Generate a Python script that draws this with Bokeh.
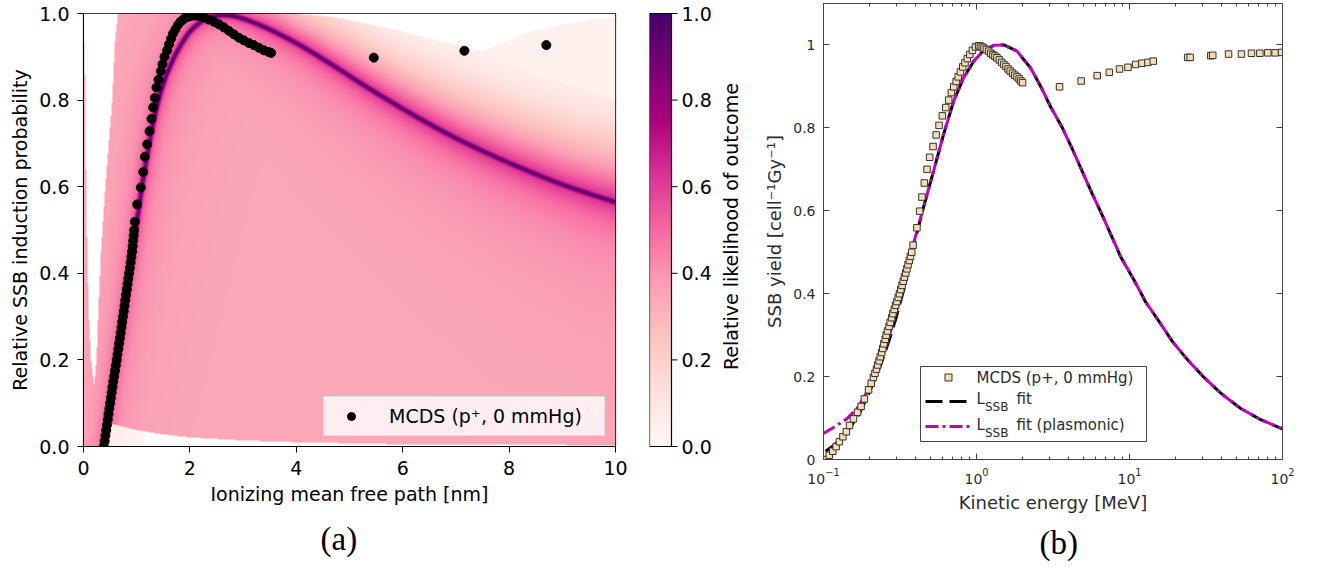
import numpy as np
from bokeh.plotting import figure
from bokeh.layouts import row
from bokeh.core.properties import value
from bokeh.models import (LinearColorMapper, FixedTicker, LogTicker, LogAxis, LinearAxis,
                          Label, BoxAnnotation, Arrow, Title, Plot, Range1d)
from bokeh.embed import file_html
from bokeh.resources import INLINE

FONT = "DejaVu Sans"

# ---------------------------------------------------------------- panel (a) data
# MCDS points mapped to ionizing mean free path
mcds_a_x = [0.382, 0.397, 0.412, 0.427, 0.441, 0.456, 0.470, 0.485, 0.500, 0.515, 0.530,
            0.545, 0.560, 0.576, 0.592, 0.608, 0.624, 0.639, 0.654, 0.669, 0.684, 0.699,
            0.713, 0.728, 0.742, 0.757, 0.771, 0.785, 0.799, 0.814, 0.828, 0.843, 0.857,
            0.872, 0.886, 0.900, 0.913, 0.924, 0.934, 0.943, 0.952,
            0.965, 1.009, 1.078, 1.122, 1.153, 1.197, 1.241, 1.278, 1.310, 1.341, 1.372,
            1.410, 1.454, 1.485, 1.523, 1.573, 1.610, 1.648, 1.686, 1.729, 1.773, 1.823,
            1.873, 1.924, 1.986, 2.061, 2.137, 2.199, 2.262, 2.356, 2.450, 2.544, 2.638,
            2.732, 2.826, 2.920, 3.014, 3.108, 3.202, 3.296, 3.390, 3.484, 3.528,
            5.457, 7.160, 8.700]
mcds_a_y = [0.000, 0.0125, 0.025, 0.0375, 0.050, 0.0625, 0.075, 0.0875, 0.100, 0.1125, 0.125,
            0.1375, 0.150, 0.1625, 0.175, 0.1875, 0.200, 0.2125, 0.225, 0.2375, 0.250, 0.2625,
            0.275, 0.2875, 0.300, 0.3125, 0.325, 0.3375, 0.350, 0.3625, 0.375, 0.3875, 0.400,
            0.4125, 0.425, 0.4375, 0.450, 0.4625, 0.475, 0.4875, 0.500,
            0.519, 0.559, 0.598, 0.634, 0.669, 0.698, 0.728, 0.757, 0.783, 0.805, 0.829,
            0.847, 0.867, 0.883, 0.900, 0.915, 0.929, 0.942, 0.954, 0.963, 0.973, 0.981,
            0.986, 0.991, 0.993, 0.995, 0.995, 0.994, 0.991, 0.986, 0.981, 0.975, 0.968,
            0.960, 0.952, 0.944, 0.938, 0.932, 0.927, 0.921, 0.915, 0.911, 0.909,
            0.898, 0.914, 0.927]

# most likely curve (dark ridge of the likelihood map)
ridge_x = [0.38, 0.50, 0.60, 0.70, 0.80, 0.90, 1.00, 1.10, 1.20, 1.30, 1.40, 1.50, 1.60,
           1.75, 2.00, 2.30, 2.65, 3.00, 3.50, 4.08, 4.64, 5.34, 6.00, 6.60, 7.20, 8.00,
           9.00, 10.00]
ridge_y = [0.00, 0.10, 0.18, 0.265, 0.35, 0.43, 0.515, 0.60, 0.675, 0.74, 0.795, 0.838,
           0.870, 0.910, 0.958, 0.987, 0.996, 0.988, 0.963, 0.926, 0.884, 0.829, 0.780,
           0.738, 0.700, 0.655, 0.605, 0.564]

# empty gap between the thin left sliver and the main fan of curves
gap_y = [0.14, 0.20, 0.30, 0.45, 0.60, 0.80, 0.93, 0.94, 1.00]
gap_lo = [0.20, 0.14, 0.10, 0.07, 0.05, 0.035, 0.02, 0.0, 0.0]
gap_hi = [0.20, 0.245, 0.275, 0.33, 0.41, 0.54, 0.59, 0.595, 0.65]

# lower edge of the fan
floor_x = [0.42, 0.48, 0.60, 0.80, 1.00, 1.50, 2.00, 3.00, 4.00, 6.00, 10.0]
floor_y = [0.0, 0.052, 0.050, 0.044, 0.038, 0.028, 0.021, 0.014, 0.010, 0.005, 0.003]

# upper edge of the fan and of the faint outer band
ceil_x = [3.4, 4.0, 4.7, 5.33, 5.96, 6.58, 7.21, 7.5, 8.5, 10.0]
ceil_y = [1.0, 1.0, 0.992, 0.977, 0.960, 0.940, 0.923, 0.913, 0.86, 0.80]
outer_x = [7.3, 7.5, 8.44, 9.38, 10.0]
outer_y = [0.905, 0.913, 0.961, 0.983, 0.992]

# fall-off length (px) of the likelihood above the ridge
fade_x = [0.0, 2.4, 3.0, 4.0, 5.0, 6.0, 7.5, 10.0]
fade_len = [1e4, 1e4, 80.0, 40.0, 45.0, 50.0, 60.0, 75.0]

# colour bar ticks
cbar_ticks = [0.0, 0.2, 0.4, 0.6, 0.8, 1.0]
cbar_labels = ["0.0", "0.2", "0.4", "0.6", "0.8", "1.0"]

# ---------------------------------------------------------------- panel (b) data
mcds_E = [0.105, 0.109, 0.115, 0.121, 0.127, 0.134, 0.141, 0.148, 0.157, 0.167, 0.176,
          0.185, 0.197, 0.205,
          0.212, 0.217, 0.222, 0.226, 0.231, 0.235, 0.240, 0.244, 0.248, 0.253, 0.257,
          0.262, 0.268, 0.273, 0.279, 0.284, 0.290, 0.296, 0.302, 0.308, 0.314, 0.320,
          0.326, 0.332, 0.338, 0.345, 0.351, 0.357, 0.364, 0.370, 0.377,
          0.385, 0.408, 0.425, 0.440, 0.456, 0.475, 0.494, 0.520, 0.545, 0.569, 0.598,
          0.630, 0.658, 0.685, 0.710, 0.736, 0.759, 0.785, 0.813, 0.841, 0.871, 0.904,
          0.940, 0.984, 1.033,
          1.06, 1.09, 1.12, 1.16, 1.20, 1.24, 1.28, 1.32, 1.36, 1.41, 1.46, 1.51, 1.56,
          1.61, 1.66, 1.72, 1.78, 1.84, 1.90, 1.95, 2.00,
          3.49, 4.83, 6.15, 7.38, 8.61, 9.77, 10.97, 12.05, 13.2, 14.3, 24.0, 24.9, 34.0,
          35.0, 44.4, 53.9, 62.7, 71.1, 80.2, 89.5, 98.6]
mcds_y = [0.000, 0.010, 0.020, 0.031, 0.043, 0.055, 0.067, 0.082, 0.098, 0.114, 0.128,
          0.146, 0.168, 0.184,
          0.198, 0.208, 0.218, 0.228, 0.238, 0.248, 0.258, 0.268, 0.279, 0.290, 0.300,
          0.310, 0.321, 0.331, 0.342, 0.352, 0.362, 0.372, 0.381, 0.391, 0.400, 0.410,
          0.420, 0.430, 0.440, 0.450, 0.460, 0.470, 0.480, 0.490, 0.500,
          0.517, 0.559, 0.599, 0.633, 0.667, 0.700, 0.729, 0.755, 0.783, 0.806, 0.829,
          0.849, 0.867, 0.885, 0.899, 0.912, 0.923, 0.935, 0.947, 0.957, 0.967, 0.977,
          0.987, 0.995, 0.998,
          0.997, 0.995, 0.992, 0.989, 0.985, 0.980, 0.976, 0.973, 0.969, 0.964, 0.958,
          0.953, 0.948, 0.942, 0.937, 0.932, 0.927, 0.923, 0.918, 0.913, 0.909,
          0.899, 0.913, 0.926, 0.934, 0.942, 0.946, 0.953, 0.956, 0.958, 0.961, 0.970,
          0.970, 0.974, 0.975, 0.978, 0.978, 0.980, 0.980, 0.981, 0.981, 0.982]

# shared upper part of both fitted curves
fit_tail_E = [0.451, 0.525, 0.610, 0.710, 0.824, 0.960, 1.114, 1.30, 1.51, 1.84, 2.25,
              2.62, 3.05, 3.63, 4.23, 4.91, 5.71, 6.64, 8.11, 8.75, 10.7, 12.7, 15.6,
              19.05, 23.9, 30.7, 39.5, 53.3, 72.1, 100.0]
fit_tail_y = [0.609, 0.697, 0.785, 0.865, 0.921, 0.961, 0.987, 0.999, 1.000, 0.985, 0.945,
              0.901, 0.851, 0.801, 0.749, 0.695, 0.641, 0.589, 0.517, 0.489, 0.433, 0.381,
              0.333, 0.285, 0.241, 0.198, 0.160, 0.123, 0.096, 0.074]
# low-energy parts
fit_E = [0.103, 0.115, 0.130, 0.150, 0.170, 0.190, 0.210, 0.240, 0.270, 0.300, 0.340, 0.385]
fit_y = [0.020, 0.032, 0.050, 0.078, 0.108, 0.145, 0.182, 0.235, 0.290, 0.345, 0.420, 0.510]
plas_E = [0.100, 0.122, 0.142, 0.165, 0.192, 0.224, 0.260, 0.302, 0.351, 0.385]
plas_y = [0.063, 0.082, 0.098, 0.122, 0.162, 0.210, 0.280, 0.361, 0.457, 0.517]

x_ticks_a = [0, 2, 4, 6, 8, 10]
y_ticks_a = [0.0, 0.2, 0.4, 0.6, 0.8, 1.0]
y_ticks_b = [0, 0.2, 0.4, 0.6, 0.8, 1]

# ---------------------------------------------------------------- colour map (RdPu)
RDPU = ['#fff7f3', '#fde0dd', '#fcc5c0', '#fa9fb5', '#f768a1',
        '#dd3497', '#ae017e', '#7a0177', '#49006a']


def ramp(stops, n=256):
    rgb = np.array([[int(c[i:i + 2], 16) for i in (1, 3, 5)] for c in stops], float)
    pos = np.linspace(0, 1, len(stops))
    t = np.linspace(0, 1, n)
    chans = [np.interp(t, pos, rgb[:, k]) for k in range(3)]
    return ['#%02x%02x%02x' % (int(round(r)), int(round(g)), int(round(b)))
            for r, g, b in zip(*chans)]


PAL = ramp(RDPU)


def catmull_rom(px, py, n):
    P = np.column_stack([px, py]).astype(float)
    P = np.vstack([2 * P[0] - P[1], P, 2 * P[-1] - P[-2]])
    t = np.linspace(0, 1, n, endpoint=False)[:, None]
    segs = []
    for i in range(1, len(P) - 2):
        p0, p1, p2, p3 = P[i - 1], P[i], P[i + 1], P[i + 2]
        segs.append(0.5 * (2 * p1 + (p2 - p0) * t + (2 * p0 - 5 * p1 + 4 * p2 - p3) * t ** 2
                           + (3 * p1 - p0 - 3 * p2 + p3) * t ** 3))
    segs.append(P[-2][None, :])
    return np.vstack(segs)


# ---------------------------------------------------------------- likelihood map
NX, NY = 532, 433
SX, SY = NX / 10.0, NY / 1.0
gx = (np.arange(NX) + 0.5) / SX
gy = (np.arange(NY) + 0.5) / SY
X, Y = np.meshgrid(gx, gy)

curve = catmull_rom(np.array(ridge_x) * SX, np.array(ridge_y) * SY, 40)
cx = curve[:, 0].astype(np.float32)
cy = curve[:, 1].astype(np.float32)
qx = (X * SX).ravel().astype(np.float32)
qy = (Y * SY).ravel().astype(np.float32)
D = np.empty(qx.size, np.float32)
step = 4096
for s in range(0, qx.size, step):
    dx = qx[s:s + step, None] - cx[None, :]
    dy = qy[s:s + step, None] - cy[None, :]
    D[s:s + step] = np.sqrt((dx * dx + dy * dy).min(axis=1))
D = D.reshape(NY, NX).astype(float)

rx = np.maximum.accumulate(curve[:, 0] / SX)
ry = curve[:, 1] / SY
inside = (X >= rx[0]) & (Y < np.interp(X, rx, ry))

w = 3.0 + 1.6 * X
base = 0.345 + 0.22 * np.exp(-D / w) + 0.10 * np.exp(-D / (5 * w))
L = np.exp(np.interp(X, fade_x, np.log(fade_len)))
fade = np.where(inside, 1.0, np.exp(-(D / L) ** 2))
v = base * fade
core = np.exp(-(D / 2.0) ** 2)
v = v + (1 - v) * core

lo = np.interp(Y, gap_y, gap_lo)
hi = np.interp(Y, gap_y, gap_hi)
v[(Y > gap_y[0]) & (X > lo) & (X < hi)] = np.nan

fl = np.interp(X, floor_x, floor_y)
strip = inside & (Y < fl) & (D > 2.5)
v[strip] = (0.07 * np.clip(1 - (X - 0.42) / 0.9, 0, 1))[strip]

cl = np.interp(X, ceil_x, ceil_y, left=2.0)
ol = np.interp(X, outer_x, outer_y, left=-1.0)
above = Y > cl
v[above & (Y <= ol)] = 0.03
v[above & (Y > ol)] = np.nan
v[v < 0.015] = np.nan
field = v.astype(np.float32)

HAS_FRAME_ALIGN = "frame_align" in Plot.properties()


def unalign(fig):
    if HAS_FRAME_ALIGN:
        fig.frame_align = False


def style_axis(ax, tick_size, label_size, color, tick_in, tick_out, standoff):
    ax.axis_line_color = color
    ax.major_tick_line_color = color
    ax.minor_tick_line_color = color
    ax.major_tick_in = tick_in
    ax.major_tick_out = tick_out
    ax.major_label_text_font = FONT
    ax.major_label_text_font_size = tick_size
    ax.major_label_text_color = color
    ax.major_label_standoff = standoff
    ax.axis_label_text_font = FONT
    ax.axis_label_text_font_size = label_size
    ax.axis_label_text_font_style = "normal"
    ax.axis_label_text_color = color
    ax.axis_label_standoff = 5


# ---------------------------------------------------------------- panel (a)
fa = figure(width=630, height=568, x_range=(0, 10), y_range=(0, 1),
            output_backend="svg", toolbar_location=None,
            min_border_left=83, min_border_right=15, min_border_top=13, min_border_bottom=122)
unalign(fa)
fa.grid.visible = False
fa.outline_line_color = "black"
fa.outline_line_width = 1.2
fa.background_fill_color = "white"
mapper = LinearColorMapper(palette=PAL, low=0, high=1, nan_color="white")
fa.image(image=[field], x=0, y=0, dw=10, dh=1, color_mapper=mapper)
fa.scatter(mcds_a_x, mcds_a_y, size=9, color="black", legend_label="MCDS (p\u207a, 0 mmHg)")

fa.xaxis.ticker = FixedTicker(ticks=x_ticks_a)
fa.yaxis.ticker = FixedTicker(ticks=y_ticks_a)
fa.yaxis.major_label_overrides = {0: "0.0", 1: "1.0"}
fa.xaxis.axis_label = "Ionizing mean free path [nm]"
fa.yaxis.axis_label = "Relative SSB induction probability"
for ax in (fa.xaxis[0], fa.yaxis[0]):
    style_axis(ax, "19px", "19px", "black", 0, 6, 8)
    ax.minor_tick_out = 0

lg = fa.legend[0]
lg.location = "bottom_right"
lg.margin = 10
lg.padding = 8
lg.spacing = 0
lg.glyph_width = 38
lg.glyph_height = 20
lg.label_standoff = 19
lg.label_width = 207
lg.label_text_font = FONT
lg.label_text_font_size = "19px"
lg.label_text_color = "black"
lg.background_fill_color = "white"
lg.background_fill_alpha = 0.8
lg.border_line_color = "#cccccc"
lg.border_line_width = 1

fa.add_layout(Title(text="(a)", align="left", offset=237, standoff=23,
                    text_font="Liberation Serif", text_font_size="33px",
                    text_font_style="normal", text_color="black"), "below")

# ---------------------------------------------------------------- colour bar
# the frame covers the whole strip so that the bar, its ticks and its title are all inside
CB_W = 111
fc = figure(width=130, height=568, x_range=Range1d(0, CB_W),
            y_range=Range1d(-122 / 433, 1 + 13 / 433),
            x_axis_location=None, y_axis_location=None,
            output_backend="svg", toolbar_location=None,
            min_border_left=19, min_border_right=0, min_border_top=0, min_border_bottom=0)
unalign(fc)
fc.grid.visible = False
fc.outline_line_color = None
grad = np.linspace(0, 1, 256).reshape(256, 1)
fc.image(image=[grad], x=0, y=0, dw=22, dh=1,
         color_mapper=LinearColorMapper(palette=PAL, low=0, high=1))
fc.quad(left=[0], right=[22], bottom=[0], top=[1], fill_color=None,
        line_color="black", line_width=1.2)
fc.segment(x0=[22] * len(cbar_ticks), y0=cbar_ticks, x1=[28] * len(cbar_ticks),
           y1=cbar_ticks, line_color="black", line_width=1)
fc.text(x=[32] * len(cbar_ticks), y=cbar_ticks, text=cbar_labels,
        text_font=value(FONT), text_font_size="19px", text_baseline="middle",
        text_align="left", text_color="black")
fc.text(x=[81], y=[0.508], text=["Relative likelihood of outcome"], angle=np.pi / 2,
        text_font=value(FONT), text_font_size="19px", text_baseline="middle",
        text_align="center", text_color="black")

# ---------------------------------------------------------------- panel (b)
TXT = "#2b2b2b"
FRAME = "#444444"
MAG = "#bf00bf"
fb = figure(width=560, height=568, x_axis_type="log", x_range=(0.1, 100), y_range=(0, 1.1),
            output_backend="svg", toolbar_location=None,
            min_border_left=63, min_border_right=38, min_border_top=3, min_border_bottom=107)
unalign(fb)
fb.grid.visible = False
fb.outline_line_color = FRAME
fb.outline_line_width = 1

fb.line(fit_E + fit_tail_E, fit_y + fit_tail_y, line_color="black", line_width=3,
        line_dash="17 7")
fb.line(plas_E + fit_tail_E, plas_y + fit_tail_y, line_color=MAG, line_width=3,
        line_dash="13 4 3 4")
fb.scatter(mcds_E, mcds_y, marker="square", size=6.5, fill_color="#f5deb3",
           line_color="#333333", line_width=1)

fb.xaxis.ticker = LogTicker(mantissas=[1], desired_num_ticks=4, num_minor_ticks=10)
fb.yaxis.ticker = FixedTicker(ticks=y_ticks_b)
fb.xaxis.axis_label = "Kinetic energy [MeV]"
fb.yaxis.axis_label = "SSB yield [cell\u207b\u00b9Gy\u207b\u00b9]"
for ax in (fb.xaxis[0], fb.yaxis[0]):
    style_axis(ax, "14px", "18px", TXT, 6, 0, 8)
    ax.axis_line_color = FRAME
    ax.major_tick_line_color = FRAME
    ax.minor_tick_line_color = FRAME
fb.xaxis.minor_tick_in = 3
fb.xaxis.minor_tick_out = 0

# mirrored tick marks on the top and right edges
top_ax = LogAxis(ticker=LogTicker(mantissas=[1], desired_num_ticks=4, num_minor_ticks=10),
                 major_label_text_font_size="1px", major_label_text_alpha=0.0,
                 major_label_standoff=0,
                 major_tick_in=6, major_tick_out=0, minor_tick_in=3, minor_tick_out=0,
                 axis_line_color=FRAME, major_tick_line_color=FRAME,
                 minor_tick_line_color=FRAME)
fb.add_layout(top_ax, "above")
right_ax = LinearAxis(ticker=FixedTicker(ticks=y_ticks_b),
                      major_label_text_font_size="1px", major_label_text_alpha=0.0,
                      major_label_standoff=0,
                      major_tick_in=6, major_tick_out=0, minor_tick_out=0,
                      axis_line_color=FRAME, major_tick_line_color=FRAME)
fb.add_layout(right_ax, "right")

# legend of panel (b), built from annotations so that the subscripts can be set
fb.add_layout(BoxAnnotation(left=97, right=323, bottom=18, top=93,
                            left_units="screen", right_units="screen",
                            top_units="screen", bottom_units="screen",
                            fill_color="white", fill_alpha=1.0,
                            line_color=FRAME, line_alpha=1.0, line_width=1))
fb.add_layout(BoxAnnotation(left=121.5, right=128.5, bottom=78.5, top=85.5,
                            left_units="screen", right_units="screen",
                            top_units="screen", bottom_units="screen",
                            fill_color="#f5deb3", fill_alpha=1.0,
                            line_color="#333333", line_alpha=1.0, line_width=1))
fb.add_layout(Arrow(end=None, x_start=102, y_start=58, x_end=146, y_end=58,
                    start_units="screen", end_units="screen",
                    line_color="black", line_width=3, line_dash="17 7"))
fb.add_layout(Arrow(end=None, x_start=102, y_start=33, x_end=146, y_end=33,
                    start_units="screen", end_units="screen",
                    line_color=MAG, line_width=3, line_dash="13 4 3 4"))


def leg_text(x, y, text, size="15px"):
    fb.add_layout(Label(x=x, y=y, x_units="screen", y_units="screen", text=text,
                        text_font=FONT, text_font_size=size, text_baseline="middle",
                        text_color=TXT))


leg_text(153, 82, "MCDS (p+, 0 mmHg)")
leg_text(153, 61, "L")
leg_text(161.5, 53, "SSB", "12px")
leg_text(193, 61, "fit")
leg_text(153, 35, "L")
leg_text(161.5, 27, "SSB", "12px")
leg_text(193, 35, "fit (plasmonic)")

fb.add_layout(Title(text="(b)", align="left", offset=216, standoff=15,
                    text_font="Liberation Serif", text_font_size="33px",
                    text_font_style="normal", text_color="black"), "below")

layout = row(fa, fc, fb)
open("out.html", "w").write(file_html(layout, INLINE))
